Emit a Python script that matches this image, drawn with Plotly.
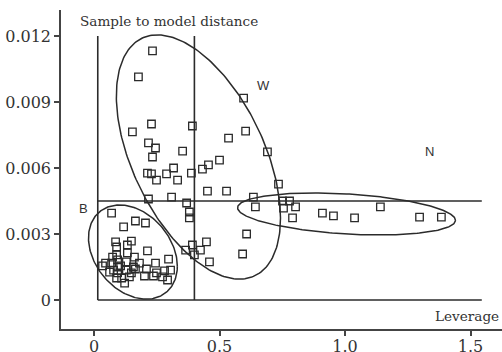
import numpy as np
import plotly.graph_objects as go

# ---- data (leverage, sample-to-model distance x1e-3) ----
b_lev = [0.070, 0.118, 0.165, 0.205, 0.086, 0.090, 0.133, 0.149, 0.213, 0.090,
         0.133, 0.161, 0.034, 0.046, 0.070, 0.094, 0.129, 0.157, 0.078, 0.094,
         0.129, 0.165, 0.209, 0.245, 0.297, 0.237, 0.201, 0.090, 0.122, 0.249,
         0.273, 0.293, 0.305, 0.281, 0.094, 0.110, 0.141, 0.149, 0.074, 0.181,
         0.106, 0.062]
b_dist = [3.95, 3.32, 3.59, 3.50, 2.64, 2.41, 2.50, 2.68, 2.23, 2.05,
          2.14, 1.95, 1.55, 1.68, 1.68, 1.82, 1.73, 1.50, 1.36, 1.23,
          1.36, 1.41, 1.41, 1.68, 1.86, 1.09, 1.09, 1.00, 0.77, 1.23,
          1.05, 0.91, 1.36, 1.32, 1.50, 1.00, 1.05, 1.23, 1.95, 1.68,
          1.55, 1.27]

w_lev = [0.233, 0.177, 0.153, 0.229, 0.392, 0.217, 0.245, 0.233, 0.353, 0.213,
         0.229, 0.249, 0.289, 0.317, 0.333, 0.388, 0.432, 0.456, 0.500, 0.536,
         0.604, 0.596, 0.691, 0.452, 0.528, 0.217, 0.309, 0.369, 0.380, 0.380,
         0.735, 0.635, 0.643, 0.608, 0.592, 0.365, 0.392, 0.400, 0.424, 0.448,
         0.460]
w_dist = [11.32, 10.14, 7.64, 8.00, 7.91, 7.14, 6.91, 6.50, 6.77, 5.77,
          5.73, 5.45, 5.73, 6.00, 5.45, 5.77, 5.95, 6.14, 6.36, 7.36,
          7.68, 9.18, 6.73, 4.95, 4.95, 4.59, 4.68, 4.41, 4.00, 3.73,
          5.27, 4.68, 4.23, 3.00, 2.09, 2.27, 2.50, 2.05, 2.27, 2.64,
          1.73]

n_lev = [0.751, 0.779, 0.803, 0.755, 0.791, 0.910, 0.954, 1.038, 1.141, 1.297, 1.384]
n_dist = [4.50, 4.50, 4.23, 4.18, 3.73, 3.95, 3.82, 3.73, 4.23, 3.77, 3.77]

# class ellipses: name, centre x, centre y, half-width x, half-height y, correlation
ellipses = [
    ("W", 0.416, 0.00650, 0.327, 0.00555, -0.50),
    ("B", 0.155, 0.00218, 0.177, 0.00214, -0.30),
    ("N", 1.006, 0.00391, 0.434, 0.000955, -0.30),
]
class_labels = ["W", "N", "B"]
label_x = [0.675, 1.337, -0.042]
label_y = [0.00977, 0.00673, 0.00414]

# critical limits
lev_limits = [0.015, 0.40]
dist_limits = [0.0, 0.0045]
lev_max = 1.545
dist_max = 0.012

x_ticks = [0, 0.5, 1.0, 1.5]
x_ticktext = ["0", "0.5", "1.0", "1.5"]
y_ticks = [0, 0.003, 0.006, 0.009, 0.012]
y_ticktext = ["0", "0.003", "0.006", "0.009", "0.012"]

INK = "#2b2b2b"
SERIF = "DejaVu Serif"

fig = go.Figure()

# limit lines
for lx in lev_limits:
    fig.add_trace(go.Scatter(x=[lx, lx], y=[0, dist_max], mode="lines",
                             line=dict(color=INK, width=1.6), hoverinfo="skip"))
for dy in dist_limits:
    fig.add_trace(go.Scatter(x=[lev_limits[0], lev_max], y=[dy, dy], mode="lines",
                             line=dict(color=INK, width=1.6), hoverinfo="skip"))

# ellipses
t = np.linspace(0, 2 * np.pi, 241)
for name, cx, cy, rx, ry, rho in ellipses:
    ex = cx + rx * np.cos(t)
    ey = cy + ry * (rho * np.cos(t) + np.sqrt(1 - rho ** 2) * np.sin(t))
    fig.add_trace(go.Scatter(x=ex, y=ey, mode="lines",
                             line=dict(color=INK, width=1.5), hoverinfo="skip"))

# samples
all_lev = b_lev + w_lev + n_lev
all_dist = [d / 1000 for d in (b_dist + w_dist + n_dist)]
fig.add_trace(go.Scatter(x=all_lev, y=all_dist, mode="markers",
                         marker=dict(symbol="square-open", size=7.5,
                                     color=INK, line=dict(width=1.3, color=INK))))

for lab, lx, ly in zip(class_labels, label_x, label_y):
    fig.add_annotation(x=lx, y=ly, xref="x", yref="y", text=lab, showarrow=False,
                       font=dict(family="Liberation Sans", size=13, color="#333"),
                       xanchor="center", yanchor="middle")

fig.add_annotation(x=0.0385, y=0.9655, xref="paper", yref="paper",
                   text="Sample to model distance", showarrow=False,
                   xanchor="left", yanchor="middle",
                   font=dict(family=SERIF, size=13.6, color="#333"))
fig.add_annotation(x=0.9975, y=0.041, xref="paper", yref="paper",
                   text="Leverage", showarrow=False,
                   xanchor="right", yanchor="middle",
                   font=dict(family=SERIF, size=13.6, color="#333"))

fig.update_layout(
    width=502, height=352,
    margin=dict(l=61, r=0, t=10, b=23),
    paper_bgcolor="white", plot_bgcolor="white",
    showlegend=False,
    template="none",
)
fig.update_xaxes(range=[-0.1315, 1.6255], tickvals=x_ticks, ticktext=x_ticktext,
                 showgrid=False, zeroline=False, showline=True, linecolor="#444",
                 linewidth=1.5, ticks="outside", ticklen=5, tickwidth=1.5,
                 tickcolor="#444", automargin=False, ticklabelstandoff=-3,
                 tickfont=dict(family=SERIF, size=16, color="#333"))
fig.update_yaxes(range=[-0.001318, 0.013182], tickvals=y_ticks, ticktext=y_ticktext,
                 showgrid=False, zeroline=False, showline=True, linecolor="#444",
                 linewidth=1.5, ticks="outside", ticklen=5, tickwidth=1.5,
                 tickcolor="#444", automargin=False,
                 tickfont=dict(family=SERIF, size=16, color="#333"))

fig.write_html("out.html", config={"displayModeBar": False},
               post_script="document.body.style.margin='0';document.body.style.overflow='hidden';")
